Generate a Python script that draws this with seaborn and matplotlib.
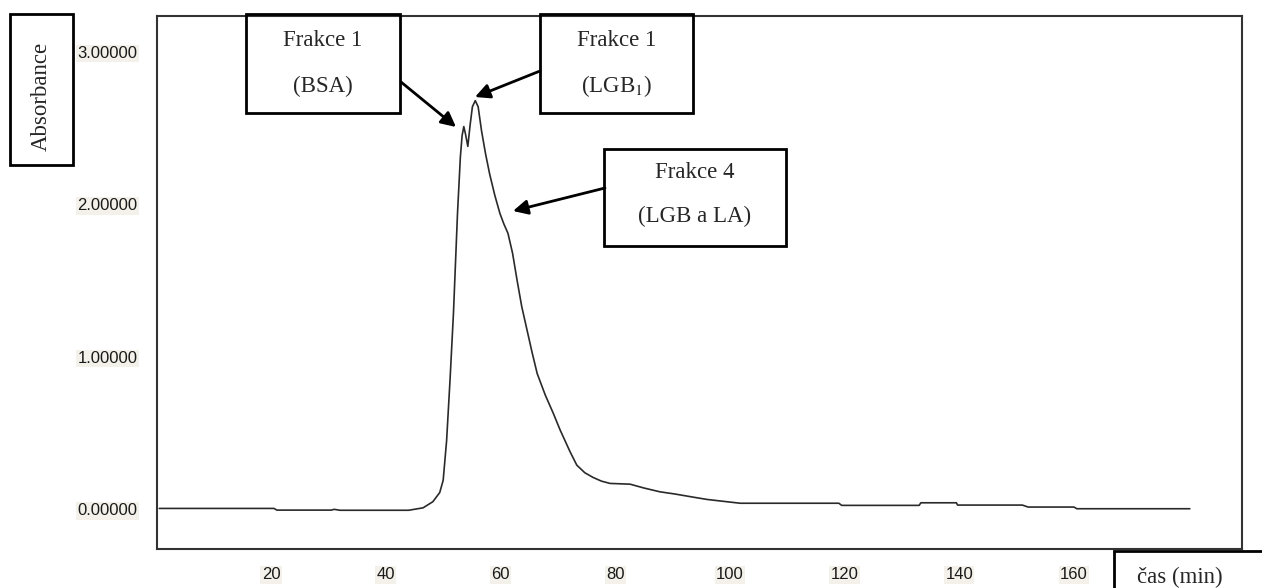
import numpy as np
import pandas as pd
import matplotlib
matplotlib.use("Agg")
import matplotlib.pyplot as plt
import seaborn as sns
from matplotlib.patches import Rectangle

# ---- data ----
time_min = [0.5, 20.5, 21.0, 30.5, 31.0, 32.0, 44.0, 46.5, 48.2, 49.4, 50.0, 50.6,
            51.2, 51.8, 52.5, 53.0, 53.3, 53.6, 53.9, 54.3, 54.7, 55.1, 55.6, 56.1,
            56.7, 57.4, 58.1, 59.0, 59.9, 60.6, 61.3, 62.1, 62.9, 63.7, 64.6, 65.5,
            66.4, 67.8, 69.2, 70.4, 72.1, 73.3, 74.7, 76.1, 77.6, 79.1, 82.6, 85.0,
            87.8, 90.5, 93.6, 96.0, 98.3, 101.8, 108.7, 119.0, 119.5, 133.0, 133.3,
            139.5, 139.7, 151.0, 152.0, 160.0, 160.5, 180.2]
absorbance = [0.006, 0.006, -0.005, -0.005, 0.0, -0.006, -0.006, 0.01, 0.05, 0.11, 0.19, 0.45,
              0.85, 1.29, 1.94, 2.31, 2.45, 2.51, 2.46, 2.38, 2.52, 2.64, 2.68, 2.64,
              2.48, 2.33, 2.20, 2.06, 1.94, 1.87, 1.81, 1.68, 1.50, 1.33, 1.18, 1.03,
              0.89, 0.75, 0.63, 0.52, 0.38, 0.29, 0.24, 0.21, 0.185, 0.17, 0.165, 0.14,
              0.115, 0.10, 0.08, 0.065, 0.055, 0.04, 0.04, 0.04, 0.026, 0.026, 0.043,
              0.043, 0.028, 0.028, 0.015, 0.015, 0.004, 0.004]
x_ticks = [20, 40, 60, 80, 100, 120, 140, 160]
y_ticks = [0.0, 1.0, 2.0, 3.0]
y_label = "Absorbance"
x_label = "čas (min)"
box_texts = [("Frakce 1", "(BSA)"), ("Frakce 1", "(LGB$_1$)"), ("Frakce 4", "(LGB a LA)")]

df = pd.DataFrame({"t": time_min, "A": absorbance})

sns.set_style("white")
plt.rcParams["mathtext.fontset"] = "stix"

W, H = 1262, 588
fig = plt.figure(figsize=(W / 100, H / 100), dpi=100)
ax = fig.add_axes([157 / W, 1 - 549.3 / H, (1242 - 157) / W, (549.3 - 16) / H])

sns.lineplot(data=df, x="t", y="A", ax=ax, color="#2a2a2a", lw=1.2,
             estimator=None, sort=False)

ax.set_xlim(0.1, 189.3)
ax.set_ylim(-0.262, 3.235)
ax.set_xticks(x_ticks)
ax.set_yticks(y_ticks)
ax.set_yticklabels([f"{v:.5f}" for v in y_ticks])
ax.set_xlabel("")
ax.set_ylabel("")
for s in ax.spines.values():
    s.set_visible(True)
    s.set_color("#333333")
    s.set_linewidth(1.5)
ax.tick_params(axis="y", direction="out", length=10, width=1.5, color="#333333", pad=4)
ax.tick_params(axis="x", direction="out", length=7, width=1.5, color="#333333", pad=6)
tick_font = ["DejaVu Sans Condensed", "Liberation Sans Narrow", "Liberation Sans"]
for lab in ax.get_yticklabels() + ax.get_xticklabels():
    lab.set_family(tick_font)
    lab.set_fontsize(12)
    lab.set_color("#1a1a1a")
    lab.set_bbox(dict(facecolor="#f3f1e9", edgecolor="none", pad=1.0))
ax.grid(False)

serif = ["Liberation Serif", "DejaVu Serif"]


def fx(px):
    return px / W


def fy(py):
    return 1 - py / H


def box(x0, y0, x1, y1):
    fig.add_artist(Rectangle((fx(x0), fy(y1)), fx(x1) - fx(x0), fy(y0) - fy(y1),
                             transform=fig.transFigure, fill=False,
                             edgecolor="black", lw=2))


# y-label box
box(10, 14, 73, 165)
fig.text(fx(41.5), fy(96), y_label, rotation=90, ha="center", va="center",
         fontsize=16.5, family=serif)

# annotation boxes
boxes = [(246, 14, 400, 113), (540, 14, 693, 113), (604, 149, 786, 246)]
line1_y = [40, 40, 173]
line2_y = [86, 86, 216]
for (b, (t1, t2), y1, y2) in zip(boxes, box_texts, line1_y, line2_y):
    box(*b)
    cx = (b[0] + b[2]) / 2
    fig.text(fx(cx), fy(y1), t1, ha="center", va="center", fontsize=16.5, family=serif)
    fig.text(fx(cx), fy(y2), t2, ha="center", va="center", fontsize=16.5, family=serif)

# arrows
arrows = [((401, 82), (456, 127)), ((540, 71), (475, 97)), ((605, 188), (513, 211))]
for (s, e) in arrows:
    fig.add_artist(matplotlib.patches.FancyArrowPatch(
        (fx(s[0]), fy(s[1])), (fx(e[0]), fy(e[1])), transform=fig.transFigure,
        arrowstyle="-|>", mutation_scale=22, lw=2, color="black",
        shrinkA=0, shrinkB=0))

# x-label box (cut by figure edge)
box(1114, 551, 1300, 640)
fig.text(fx(1180), fy(583), x_label, ha="center", va="baseline", fontsize=16.5, family=serif)

fig.savefig("out.png", dpi=100, facecolor="white")
